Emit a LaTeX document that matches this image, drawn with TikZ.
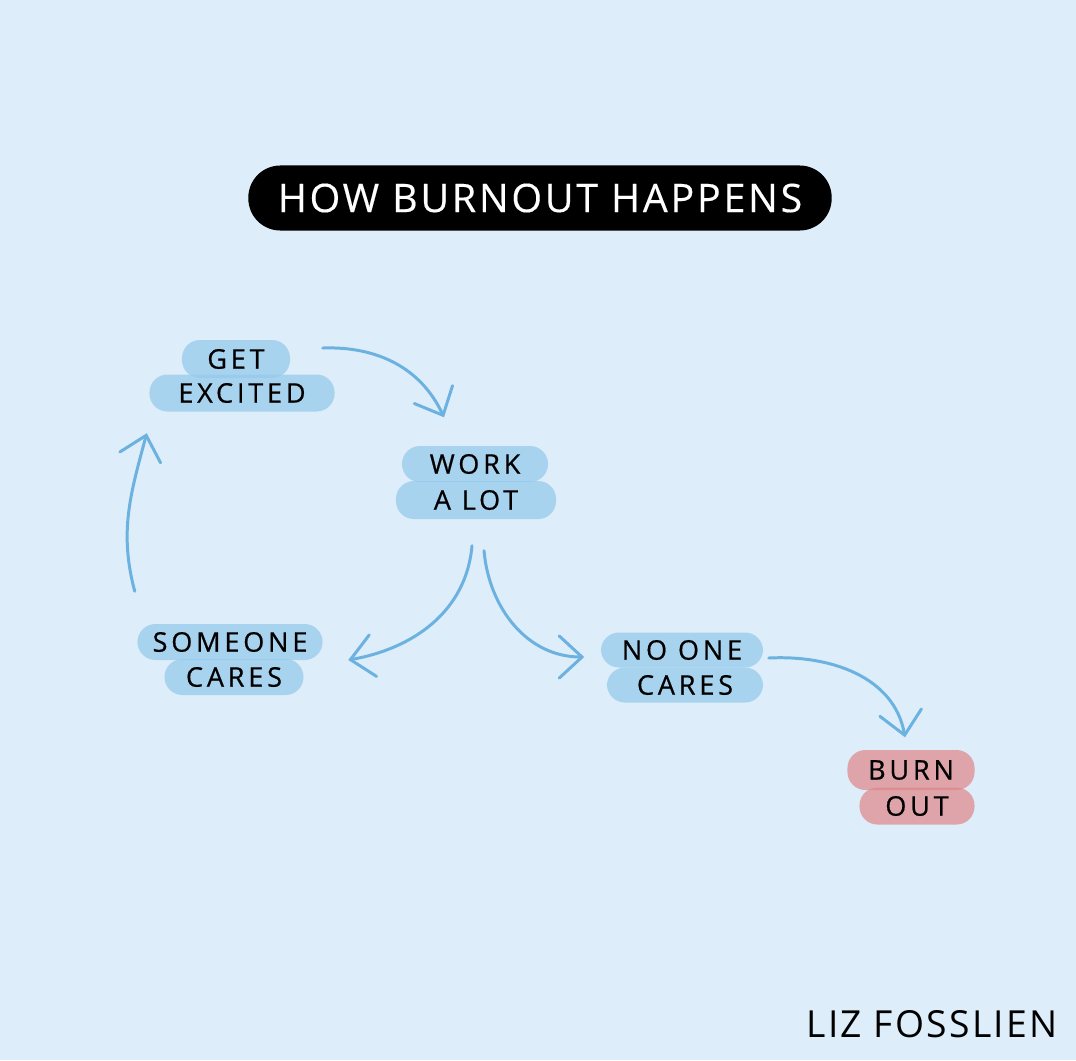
\documentclass[tikz,border=0pt]{standalone}
\usepackage{fontspec}
\usepackage{tikz}
\usetikzlibrary{arrows.meta,calc}
\newfontfamily\handfont{Open Sans}[LetterSpace=14,FakeBold=0.6]
\newfontfamily\titlefont{Open Sans}[LetterSpace=7,FakeBold=0.3]
\newfontfamily\signfont{Open Sans}[LetterSpace=6]
\definecolor{bgblue}{RGB}{221,237,249}
\definecolor{blobblue}{RGB}{146,200,236}
\definecolor{blobred}{RGB}{223,134,136}
\definecolor{arrowblue}{RGB}{108,178,224}

\begin{document}
\begin{tikzpicture}[x=0.01cm,y=-0.01cm,
  blob/.style={fill=blobblue, fill opacity=0.7, text opacity=1, rounded corners=0.18cm,
    inner sep=0pt, minimum height=0.36cm, font=\handfont\fontsize{7.7}{9}\selectfont},
  redblob/.style={blob, fill=blobred},
  flow/.style={draw=arrowblue, line width=0.85pt, line cap=round,
    -{Straight Barb[length=6.5pt,width=12pt,line cap=round]}}]
\fill[bgblue] (0,0) rectangle (1076,1060);
\useasboundingbox (0,0) rectangle (1076,1060);
\node[fill=black, text=white, rounded corners=0.32cm, minimum width=5.83cm, minimum height=0.65cm,
  font=\titlefont\fontsize{11.2}{13}\selectfont] (title) at (540,198) {HOW BURNOUT HAPPENS};
\node[blob, minimum width=1.08cm, minimum height=0.38cm] (get) at (236,359) {GET};
\node[blob, minimum width=1.85cm, minimum height=0.37cm] (excited) at (242,393) {EXCITED};
\node[blob, minimum width=1.46cm] (work) at (475,464) {WORK};
\node[blob, minimum width=1.60cm, minimum height=0.38cm] (alot) at (476,500) {A LOT};
\node[blob, minimum width=1.85cm] (someone) at (230,642) {SOMEONE};
\node[blob, minimum width=1.39cm] (scares) at (234,677) {CARES};
\node[blob, minimum width=1.62cm, minimum height=0.35cm] (noone) at (682,650) {NO ONE};
\node[blob, minimum width=1.56cm, minimum height=0.35cm] (ncares) at (685,685) {CARES};
\node[redblob, minimum width=1.27cm, minimum height=0.40cm] (burn) at (911,770) {BURN};
\node[redblob, minimum width=1.15cm, minimum height=0.37cm] (out) at (917,806) {OUT};
\node[font=\signfont\fontsize{10.6}{12}\selectfont] (sign) at (932,1024) {LIZ FOSSLIEN};
\draw[flow] ($(get.east)+(32,-11)$) to[out=2,in=115] ($(work.north)+(-31,-28)$);
\draw[flow] ($(alot.south)+(-4,26)$) to[out=-95,in=10] ($(someone.east)+(25,18)$);
\draw[flow] ($(alot.south)+(8,31)$) to[out=-85,in=180] ($(noone.west)+(-16,7)$);
\draw[flow] ($(noone.east)+(5,8)$) to[out=3,in=100] ($(burn.north)+(-6,-12)$);
\draw[flow] ($(someone.north west)+(-2,-32)$) to[out=105,in=-105] ($(excited.south west)+(-2,21)$);
\end{tikzpicture}
\end{document}
